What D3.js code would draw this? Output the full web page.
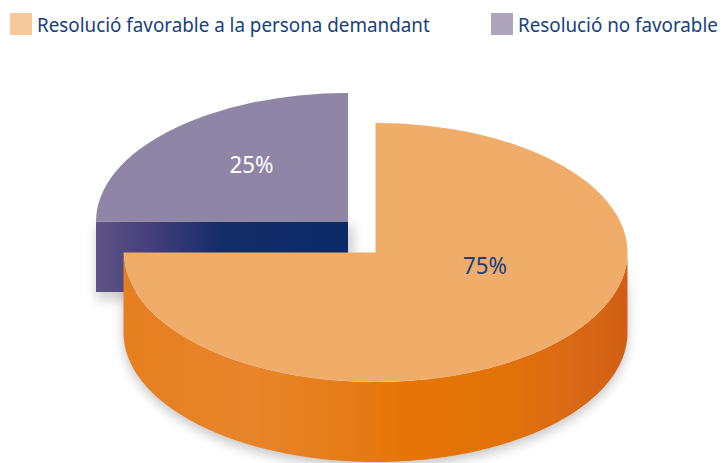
<!DOCTYPE html>
<html>
<head>
<meta charset="utf-8">
<script src="https://cdn.jsdelivr.net/npm/d3@7"></script>
<style>
  html, body { margin: 0; padding: 0; background: #fff; }
  text { font-family: "Noto Sans", sans-serif; }
</style>
</head>
<body>
<svg id="chart" width="722" height="463" style="display:block"></svg>
<script>
const categories = ['Resolució favorable a la persona demandant', 'Resolució no favorable'];
const values = [75, 25];
const valueLabels = ['75%', '25%'];

const svg = d3.select('#chart');
const defs = svg.append('defs');

const addGradient = (id, stops) => {
  const grad = defs.append('linearGradient').attr('id', id);
  stops.forEach(s => grad.append('stop').attr('offset', s[0]).attr('stop-color', s[1]));
};

addGradient('orangeSide', [
  [0, '#e57f1f'], [0.25, '#e8842a'], [0.45, '#e57c18'], [0.55, '#e57507'],
  [0.75, '#e27308'], [0.88, '#da6a14'], [1, '#d15f14']
]);
addGradient('purpleSide', [
  [0, '#5e5488'], [0.2, '#47407c'], [0.5, '#142c68'], [1, '#0c2a66']
]);
defs.append('filter').attr('id', 'soft')
  .attr('x', '-10%').attr('y', '-10%').attr('width', '120%').attr('height', '130%')
  .append('feGaussianBlur').attr('stdDeviation', 6);

// one pie layout, 12 o'clock clockwise, so the big slice ends at 9 o'clock
const slices = d3.pie().sort(null)(values);

const rx = 252;
const orangeC = { x: 375.5, y: 252.5, ry: 129.5, depth: 80 };
const purpleC = { x: 348, y: 221.5, ry: 128.5, depth: 70.5 };

const arc = d3.arc().innerRadius(0).outerRadius(1);

// front wall of an elliptical slice, between two pie angles
const wall = (c, a0, a1) => {
  const angles = d3.range(a0, a1, 0.01).concat([a1]);
  const px = a => c.x + rx * Math.sin(a);
  const py = a => c.y - c.ry * Math.cos(a);
  return d3.area().x(px).y0(py).y1(a => py(a) + c.depth)(angles);
};

const drawTop = (c, slice) => svg.append('g')
  .attr('transform', `translate(${c.x},${c.y}) scale(${rx},${c.ry})`)
  .append('path').attr('d', arc(slice));

// soft shadows
svg.append('path')
  .attr('d', wall({ ...orangeC, y: orangeC.y + 5 }, Math.PI / 2, Math.PI * 1.5))
  .attr('fill', '#000').attr('opacity', 0.22).attr('filter', 'url(#soft)');
svg.append('rect')
  .attr('x', purpleC.x - rx).attr('y', purpleC.y + 4)
  .attr('width', rx + 6).attr('height', purpleC.depth + 4)
  .attr('fill', '#000').attr('opacity', 0.18).attr('filter', 'url(#soft)');

// purple slice: the cut face is what shows below the top
svg.append('rect')
  .attr('x', purpleC.x - rx).attr('y', purpleC.y)
  .attr('width', rx).attr('height', purpleC.depth)
  .attr('fill', 'url(#purpleSide)');
drawTop(purpleC, slices[1]).attr('fill', '#8f85a6');

// orange slice
svg.append('path')
  .attr('d', wall(orangeC, Math.PI / 2, Math.PI * 1.5))
  .attr('fill', 'url(#orangeSide)');
drawTop(orangeC, slices[0]).attr('fill', '#f0ac69');

// squeeze a text horizontally to the width it has in the picture
const fitWidth = (sel, x, y, width) => sel.attr('transform', function() {
  return `translate(${x},${y}) scale(${width / this.getComputedTextLength()},1)`;
});

// value labels
const labelX = d3.scaleOrdinal().domain(valueLabels).range([463, 229.5]);
const labelY = d3.scaleOrdinal().domain(valueLabels).range([274, 173]);
const labelColor = d3.scaleOrdinal().domain(valueLabels).range(['#17407f', '#fff']);

svg.selectAll('text.value-label').data(valueLabels).join('text')
  .attr('class', 'value-label')
  .attr('font-size', 23)
  .attr('fill', d => labelColor(d))
  .text(d => d)
  .each(function(d) { fitWidth(d3.select(this), labelX(d), labelY(d), 44); });

// legend
const legendX = d3.scaleOrdinal().domain(categories).range([10, 491]);
const legendWidth = d3.scaleOrdinal().domain(categories).range([393, 200]);
const legendColor = d3.scaleOrdinal().domain(categories).range(['#f6c99b', '#aea5bd']);

const legend = svg.selectAll('g.legend-item').data(categories).join('g')
  .attr('class', 'legend-item')
  .attr('transform', d => `translate(${legendX(d)},13)`);
legend.append('rect')
  .attr('width', 22).attr('height', 22)
  .attr('fill', d => legendColor(d));
legend.append('text')
  .attr('font-size', 20).attr('fill', '#17407f')
  .text(d => d)
  .each(function(d) { fitWidth(d3.select(this), 27, 19, legendWidth(d)); });
</script>
</body>
</html>
